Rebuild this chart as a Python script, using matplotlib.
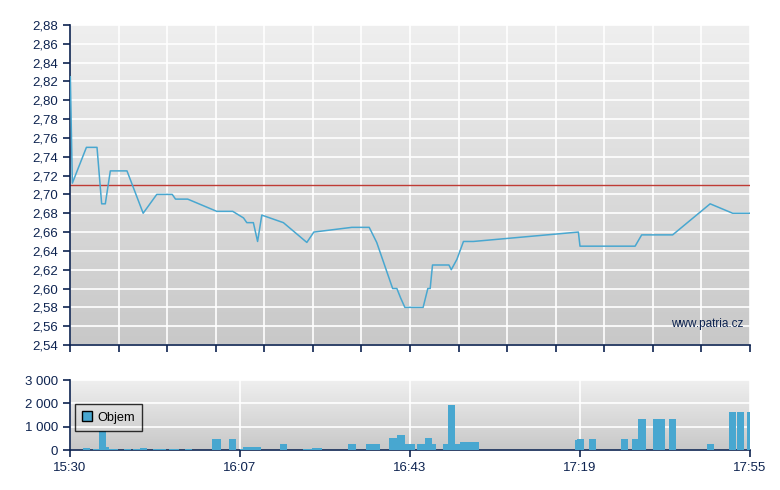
import numpy as np
import matplotlib
matplotlib.use('Agg')
import matplotlib.pyplot as plt
from matplotlib.ticker import FuncFormatter, MultipleLocator

# Cena - minuty od 15:30
price_t = [0.07, 0.5, 3.5, 5.76, 6.75, 7.53, 8.6, 12.15, 15.6, 18.5, 21.8, 22.5, 25.1,
           31.3, 34.7, 37.0, 37.7, 39.1, 40.0, 40.9, 45.5, 50.5, 52.0, 60.1, 63.8, 65.4,
           68.8, 69.7, 70.5, 71.4, 75.3, 76.3, 76.8, 77.3, 80.8, 81.3, 82.5, 83.9, 86.0,
           108.4, 108.75, 120.5, 121.9, 128.5, 136.5, 141.3, 145.0]
price = [2.825, 2.712, 2.75, 2.75, 2.69, 2.69, 2.725, 2.725, 2.68, 2.70, 2.70, 2.695, 2.695,
         2.682, 2.682, 2.675, 2.67, 2.67, 2.65, 2.678, 2.67, 2.649, 2.66, 2.665, 2.665, 2.649,
         2.60, 2.60, 2.59, 2.58, 2.58, 2.60, 2.60, 2.625, 2.625, 2.62, 2.631, 2.65, 2.65,
         2.66, 2.645, 2.645, 2.657, 2.657, 2.69, 2.68, 2.68]
prev_close = 2.71

# Objem - zacatek a konec intervalu (minuty od 15:30)
vol_start = [2.7, 5.0, 6.2, 7.7, 8.3, 11.5, 13.4, 14.9, 17.7, 21.1, 24.5, 30.3, 33.9,
             36.25, 36.9, 44.8, 49.7, 51.6, 59.3, 63.1, 68.0, 69.7, 71.4, 74.0, 75.7, 77.2,
             79.5, 80.6, 82.1, 83.2, 107.7, 108.1, 110.7, 117.5, 119.8, 121.1, 124.3, 127.7,
             135.8, 140.5, 142.2, 144.4]
vol_end = [4.3, 6.2, 7.7, 8.3, 10.2, 13.0, 14.9, 16.4, 20.5, 23.2, 26.0, 32.2, 35.4,
           36.9, 40.7, 46.3, 51.6, 53.7, 61.0, 66.1, 69.7, 71.4, 73.6, 75.7, 77.2, 78.0,
           80.6, 82.1, 83.2, 87.2, 108.1, 109.6, 112.2, 119.0, 121.1, 122.8, 126.9, 129.2,
           137.3, 142.0, 143.7, 145.9]
volume = [100, 43, 814, 143, 43, 43, 43, 100, 43, 43, 43, 486, 486,
          43, 129, 257, 43, 86, 257, 257, 514, 643, 257, 257, 514, 257,
          257, 1929, 257, 343, 429, 471, 471, 471, 471, 1329, 1329, 1329,
          257, 1629, 1629, 1629]

time_labels = ['15:30', '16:07', '16:43', '17:19', '17:55']
t_end = 145.0

navy = '#0d2350'
blue = '#48a7d0'

plt.rcParams['font.family'] = ['Liberation Sans', 'DejaVu Sans']
plt.rcParams['font.size'] = 9

fig = plt.figure(figsize=(7.8, 4.9), dpi=100)
ax = fig.add_axes([70 / 780, 1 - 345 / 490, 680 / 780, 320 / 490])
axv = fig.add_axes([70 / 780, 1 - 450 / 490, 680 / 780, 70 / 490])

grad = np.linspace(0, 1, 256).reshape(-1, 1)
cmap = matplotlib.colors.LinearSegmentedColormap.from_list('bg', ['#efefef', '#c8c8c8'])


def style_axes(a):
    a.imshow(grad, extent=[0, 1, 0, 1], transform=a.transAxes, aspect='auto',
             cmap=cmap, zorder=-1)
    for s in ['top', 'right']:
        a.spines[s].set_visible(False)
    for s in ['left', 'bottom']:
        a.spines[s].set_color(navy)
        a.spines[s].set_linewidth(1.2)
    a.tick_params(colors=navy, length=5, width=1.2, labelcolor=navy, labelsize=9.5)
    a.set_axisbelow(True)
    a.grid(True, color='white', linewidth=1.2)


style_axes(ax)
ax.plot(price_t, price, color=blue, linewidth=1.1, zorder=3)
ax.axhline(prev_close, color='#bf3b34', linewidth=1.0, zorder=2)
ax.set_xlim(0, t_end)
ax.set_ylim(2.54, 2.88)
ax.set_xticks(np.linspace(0, t_end, 15))
ax.set_xticklabels([])
ax.yaxis.set_major_locator(MultipleLocator(0.02))
ax.yaxis.set_major_formatter(FuncFormatter(lambda v, p: f'{v:.2f}'.replace('.', ',')))
ax.text(0.99, 0.065, 'www.patria.cz', transform=ax.transAxes, ha='right', va='center',
        color=navy, fontsize=8.5)

style_axes(axv)
widths = np.array(vol_end) - np.array(vol_start)
axv.bar(vol_start, volume, width=widths, align='edge', color=blue, linewidth=0,
        label='Objem', zorder=3)
axv.set_xlim(0, t_end)
axv.set_ylim(0, 3000)
axv.set_yticks([0, 1000, 2000, 3000])
axv.yaxis.set_major_formatter(FuncFormatter(lambda v, p: f'{int(v):,}'.replace(',', ' ')))
axv.set_xticks(np.linspace(0, t_end, 5))
axv.set_xticklabels(time_labels)
leg = axv.legend(loc='upper left', bbox_to_anchor=(0.007, 0.66), frameon=True, fancybox=False,
                 fontsize=9.2, handlelength=0.75, handleheight=0.75, handletextpad=0.4,
                 borderpad=0.6, borderaxespad=0)
leg.get_frame().set_facecolor('none')
leg.get_frame().set_edgecolor('black')
leg.get_frame().set_linewidth(1.0)
for h in leg.legend_handles:
    h.set_edgecolor('black')
    h.set_linewidth(1.0)

fig.savefig('out.png', dpi=100)
